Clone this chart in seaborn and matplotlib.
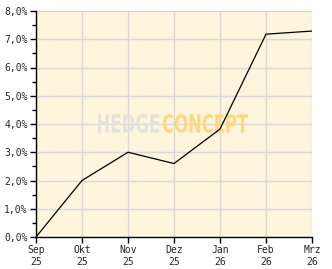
import matplotlib
matplotlib.use("Agg")
import matplotlib.pyplot as plt
import seaborn as sns
import pandas as pd
from matplotlib.ticker import MultipleLocator, FuncFormatter
from matplotlib.textpath import TextPath
from matplotlib.patches import PathPatch
from matplotlib.font_manager import FontProperties
from matplotlib.transforms import Affine2D, IdentityTransform

months = ["Sep\n25", "Okt\n25", "Nov\n25", "Dez\n25", "Jan\n26", "Feb\n26", "Mrz\n26"]
values = [0.0, 2.0, 3.0, 2.6, 3.82, 7.18, 7.29]

df = pd.DataFrame({"x": range(len(months)), "y": values})

sns.set_style("white")
plt.rcParams["font.family"] = ["DejaVu Sans Mono", "DejaVu Sans"]

W, H = 332, 269
fig = plt.figure(figsize=(W / 100, H / 100), dpi=100)
ax = fig.add_axes([36/W, 1 - 237/H, (312-36)/W, (237-11)/H])
ax.set_facecolor("#FFF5DD")


def watermark(text, x0, x1, ytop, ybot, color):
    tp = TextPath((0, 0), text, size=10, prop=FontProperties(family="DejaVu Sans", weight="bold"))
    ext = tp.get_extents()
    sx = (x1 - x0) / ext.width
    sy = (ybot - ytop) / ext.height
    tr = Affine2D().translate(-ext.x0, -ext.y0).scale(sx, sy).translate(x0, H - ybot)
    patch = PathPatch(tr.transform_path(tp), facecolor=color, edgecolor="none",
                      transform=IdentityTransform(), zorder=1)
    patch.set_clip_on(False)
    ax.add_artist(patch)


watermark("HEDGE", 98, 159, 114, 133, "#E4E2DC")
watermark("CONCEPT", 163, 248, 114, 133, "#FFD682")

sns.lineplot(data=df, x="x", y="y", ax=ax, color="black", linewidth=0.9, zorder=3)

ax.set_xlim(0, len(months) - 1)
ax.set_ylim(0, 8)
ax.set_xticks(range(len(months)))
ax.set_xticklabels(months)
ax.yaxis.set_major_locator(MultipleLocator(1))
ax.yaxis.set_minor_locator(MultipleLocator(0.5))
ax.yaxis.set_major_formatter(FuncFormatter(lambda v, p: f"{v:.1f}%".replace(".", ",")))
ax.grid(True, which="major", color="#D8D8D8", linewidth=1, zorder=0)
ax.set_axisbelow(True)
ax.set_xlabel("")
ax.set_ylabel("")

for s in ["top", "right"]:
    ax.spines[s].set_visible(False)
for s in ["left", "bottom"]:
    ax.spines[s].set_color("black")
    ax.spines[s].set_linewidth(1)

ax.tick_params(axis="both", which="major", length=4, width=1, color="black",
               labelsize=7, pad=2, direction="out", left=True, bottom=True)
ax.tick_params(axis="y", which="minor", length=3, width=1, color="black", left=True)
ax.tick_params(axis="x", pad=2)
for lbl in ax.get_xticklabels():
    lbl.set_linespacing(1.15)

fig.savefig("out.png", dpi=100, facecolor="white")
